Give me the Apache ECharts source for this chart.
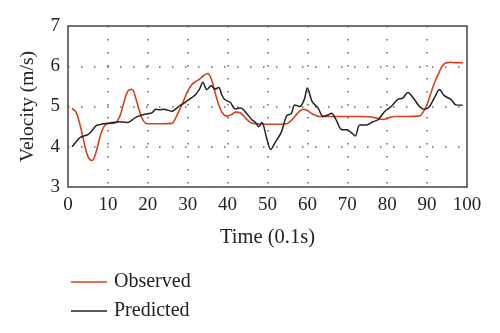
<!DOCTYPE html>
<html>
<head>
<meta charset="utf-8">
<script src="https://cdn.jsdelivr.net/npm/echarts@6/dist/echarts.min.js"></script>
<style>
  html, body { margin: 0; padding: 0; background: #fff; }
  #chart { width: 500px; height: 333px; }
</style>
</head>
<body>
<div id="chart"></div>
<script>
// Time axis (0.1 s units) and velocity axis settings
const xTicks = [0, 10, 20, 30, 40, 50, 60, 70, 80, 90, 100];
const yTicks = [3, 4, 5, 6, 7];

// Observed velocity, [time, m/s]
const observed = [
  [1, 4.95], [2, 4.86], [3, 4.55], [4, 4.12], [5, 3.76], [6, 3.66], [7, 3.86],
  [8, 4.24], [9, 4.5], [10, 4.58], [11, 4.58], [12, 4.6], [13, 4.76], [14, 5.1],
  [15, 5.38], [16, 5.43], [17, 5.2], [18, 4.86], [19, 4.63], [20, 4.57],
  [22, 4.57], [24, 4.57], [26, 4.58], [27, 4.72], [28, 4.93], [29, 5.15],
  [30, 5.38], [31, 5.54], [32, 5.62], [33, 5.68], [34, 5.77], [35, 5.82],
  [36, 5.66], [37, 5.3], [38, 4.98], [39, 4.8], [40, 4.76], [41, 4.8],
  [42, 4.86], [43, 4.85], [44, 4.77], [45, 4.66], [46, 4.59], [47, 4.57],
  [50, 4.56], [53, 4.56], [55, 4.58], [56, 4.66], [57, 4.77], [58, 4.88],
  [59, 4.93], [60, 4.9], [61, 4.83], [62, 4.78], [63, 4.75], [66, 4.75],
  [70, 4.75], [74, 4.75], [76, 4.74], [77, 4.72], [78, 4.69], [79, 4.68],
  [80, 4.7], [81, 4.74], [82, 4.75], [85, 4.75], [88, 4.76], [89, 4.86],
  [90, 5.05], [91, 5.35], [92, 5.62], [93, 5.85], [94, 6.03], [95, 6.09],
  [96, 6.1], [97, 6.09], [99, 6.09]
];

// Predicted velocity, [time, m/s]
const predicted = [
  [1, 4.0], [2, 4.12], [3, 4.23], [4, 4.27], [5, 4.3], [6, 4.4], [7, 4.52],
  [8, 4.55], [9, 4.57], [10, 4.58], [11, 4.6], [12, 4.61], [13, 4.62],
  [14, 4.61], [15, 4.6], [16, 4.66], [17, 4.73], [18, 4.77], [19, 4.8],
  [20, 4.82], [21, 4.84], [22, 4.93], [23, 4.92], [24, 4.93], [25, 4.91],
  [26, 4.88], [27, 4.94], [28, 5.02], [29, 5.08], [30, 5.15], [31, 5.22],
  [32, 5.3], [33, 5.44], [33.8, 5.6], [34.8, 5.42], [35.9, 5.52], [36.8, 5.43],
  [37.8, 5.47], [38.5, 5.3], [39.2, 5.18], [40.7, 5.1], [41.9, 4.94],
  [43.2, 4.96], [44, 4.92], [45, 4.8], [46.1, 4.67], [47, 4.6], [47.8, 4.5],
  [48.6, 4.6], [49.8, 4.21], [50.8, 3.93], [52, 4.12], [53.5, 4.37],
  [54.8, 4.77], [56, 4.83], [56.8, 5.04], [58.1, 5.0], [59.2, 5.17],
  [60, 5.46], [61.2, 5.12], [62.7, 4.96], [63.9, 4.75], [65.2, 4.79],
  [66, 4.83], [67.2, 4.67], [68.5, 4.43], [70, 4.42], [71, 4.35], [72, 4.27],
  [73.1, 4.54], [74.8, 4.54], [76.4, 4.62], [77.7, 4.67], [79.3, 4.87],
  [81, 5.0], [82.7, 5.18], [83.9, 5.21], [85.2, 5.35], [86.4, 5.23],
  [88.1, 5.0], [89.3, 4.93], [90.6, 5.0], [92, 5.25], [93.1, 5.42],
  [94.3, 5.27], [96, 5.17], [97.2, 5.04], [98.9, 5.03]
];

const seriesNames = ['Observed', 'Predicted'];
const seriesColors = ['#d8401c', '#222222'];

const serif = '"Liberation Serif", "DejaVu Serif", serif';
const chart = echarts.init(document.getElementById('chart'), null, { renderer: 'canvas' });

const dotted = { color: '#666', width: 1.5, type: [1.5, 11.5] };

chart.setOption({
  animation: false,
  backgroundColor: '#fff',
  grid: {
    left: 68, right: 33, top: 26, bottom: 146,
    show: true, borderColor: '#444', borderWidth: 1.5, backgroundColor: 'transparent'
  },
  legend: {
    orient: 'vertical', left: 66, top: 267, itemGap: 9,
    itemWidth: 36, itemHeight: 20,
    icon: 'path://M0,9 L36,9 L36,10.5 L0,10.5 Z',
    textStyle: { fontFamily: serif, fontSize: 20, color: '#222', padding: [0, 0, 0, 2] },
    data: seriesNames
  },
  xAxis: {
    type: 'value', min: xTicks[0], max: xTicks[xTicks.length - 1], interval: 10,
    name: 'Time (0.1s)', nameLocation: 'middle', nameGap: 40,
    nameTextStyle: { fontFamily: serif, fontSize: 20.5, color: '#222' },
    axisLine: { show: false },
    axisTick: { show: false },
    axisLabel: { fontFamily: serif, fontSize: 19, color: '#222', margin: 9 },
    splitLine: { show: true, lineStyle: dotted }
  },
  yAxis: {
    type: 'value', min: yTicks[0], max: yTicks[yTicks.length - 1], interval: 1,
    name: 'Velocity (m/s)', nameLocation: 'middle', nameGap: 30,
    nameTextStyle: { fontFamily: serif, fontSize: 19.5, color: '#222' },
    axisLine: { show: false },
    axisTick: { show: false },
    axisLabel: { fontFamily: serif, fontSize: 19, color: '#222', margin: 8 },
    splitLine: { show: true, lineStyle: dotted }
  },
  series: [
    {
      name: seriesNames[0], type: 'line', data: observed, smooth: 0.4,
      showSymbol: false, color: seriesColors[0],
      lineStyle: { width: 1.6, color: seriesColors[0] }, z: 3
    },
    {
      name: seriesNames[1], type: 'line', data: predicted, smooth: 0.3,
      showSymbol: false, color: seriesColors[1],
      lineStyle: { width: 1.5, color: seriesColors[1] }, z: 4
    }
  ]
});
</script>
</body>
</html>
